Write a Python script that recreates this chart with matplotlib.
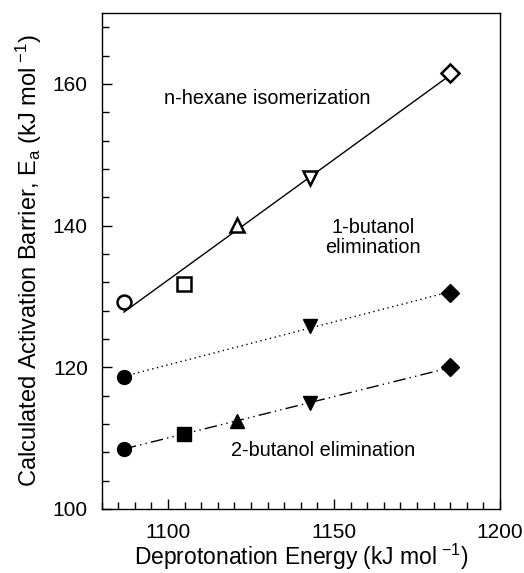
import numpy as np
import matplotlib
matplotlib.use("Agg")  # headless
import matplotlib.pyplot as plt
from matplotlib.ticker import MultipleLocator

# deprotonation energies (kJ/mol) and barriers
de_hex = [1086.7, 1104.8, 1120.7, 1142.8, 1185.0]
ea_hex = [129.2, 131.7, 140.1, 146.7, 161.5]
mk_hex = ["o", "s", "^", "v", "D"]

de_1but = [1086.7, 1142.8, 1185.0]
ea_1but = [118.6, 125.8, 130.5]
mk_1but = ["o", "v", "D"]

de_2but = [1086.7, 1104.8, 1120.7, 1142.8, 1185.0]
ea_2but = [108.5, 110.6, 112.4, 114.9, 120.0]
mk_2but = ["o", "s", "^", "v", "D"]

plt.rcParams["font.family"] = ["Liberation Sans", "DejaVu Sans"]
plt.rcParams["mathtext.fontset"] = "custom"
plt.rcParams["mathtext.rm"] = "Liberation Sans"
plt.rcParams["mathtext.it"] = "Liberation Sans"

fig = plt.figure(figsize=(5.24, 5.73), dpi=100)
ax = fig.add_axes([0.194, 0.112, 0.760, 0.865])

def fit_line(x, y, **kw):
    p = np.polyfit(x, y, 1)
    xs = np.array([min(x), max(x)])
    ax.plot(xs, np.polyval(p, xs), color="black", zorder=1, **kw)

fit_line(de_hex, ea_hex, lw=1.0, ls="-")
fit_line(de_1but, ea_1but, lw=1.0, ls=(0, (1, 2.5)))
fit_line(de_2but, ea_2but, lw=1.0, ls=(0, (9, 3, 1, 3, 1, 3)))

sizes = {"o": 10, "s": 9.5, "^": 10.5, "v": 10.5, "D": 9.5}
for x, y, m in zip(de_hex, ea_hex, mk_hex):
    ax.plot(x, y, marker=m, ms=sizes[m], mfc="white", mec="black", mew=1.8, ls="none", zorder=3)
for x, y, m in zip(de_1but, ea_1but, mk_1but):
    ax.plot(x, y, marker=m, ms=sizes[m], mfc="black", mec="black", ls="none", zorder=3)
for x, y, m in zip(de_2but, ea_2but, mk_2but):
    ax.plot(x, y, marker=m, ms=sizes[m], mfc="black", mec="black", ls="none", zorder=3)

ax.text(1129.8, 158.0, "n-hexane isomerization", ha="center", va="center", fontsize=14.3)
ax.text(1161.8, 138.3, "1-butanol\nelimination", ha="center", va="center", fontsize=14.3,
        linespacing=1.05)
ax.text(1146.7, 108.2, "2-butanol elimination", ha="center", va="center", fontsize=14.3)

ax.set_xlim(1080, 1200)
ax.set_ylim(100, 170)
ax.xaxis.set_major_locator(MultipleLocator(50))
ax.xaxis.set_minor_locator(MultipleLocator(5))
ax.yaxis.set_major_locator(MultipleLocator(20))
ax.yaxis.set_minor_locator(MultipleLocator(4))
ax.tick_params(which="both", direction="in", top=False, right=False, labelsize=15, width=1)
ax.tick_params(which="major", length=7)
ax.tick_params(which="minor", length=5)
ax.tick_params(axis="x", which="major", pad=10)
ax.tick_params(axis="y", which="major", pad=10)
for s in ax.spines.values():
    s.set_linewidth(1.0)

ax.set_xlabel(r"Deprotonation Energy (kJ mol$^{\ \mathrm{-1}}$)", fontsize=16.5, va="center")
ax.xaxis.set_label_coords(0.5, -0.097)
ax.set_ylabel(r"Calculated Activation Barrier, E$_{\mathrm{a}}$ (kJ mol$^{\ \mathrm{-1}}$)",
              fontsize=17, labelpad=6)

fig.savefig("out.png", dpi=100)
